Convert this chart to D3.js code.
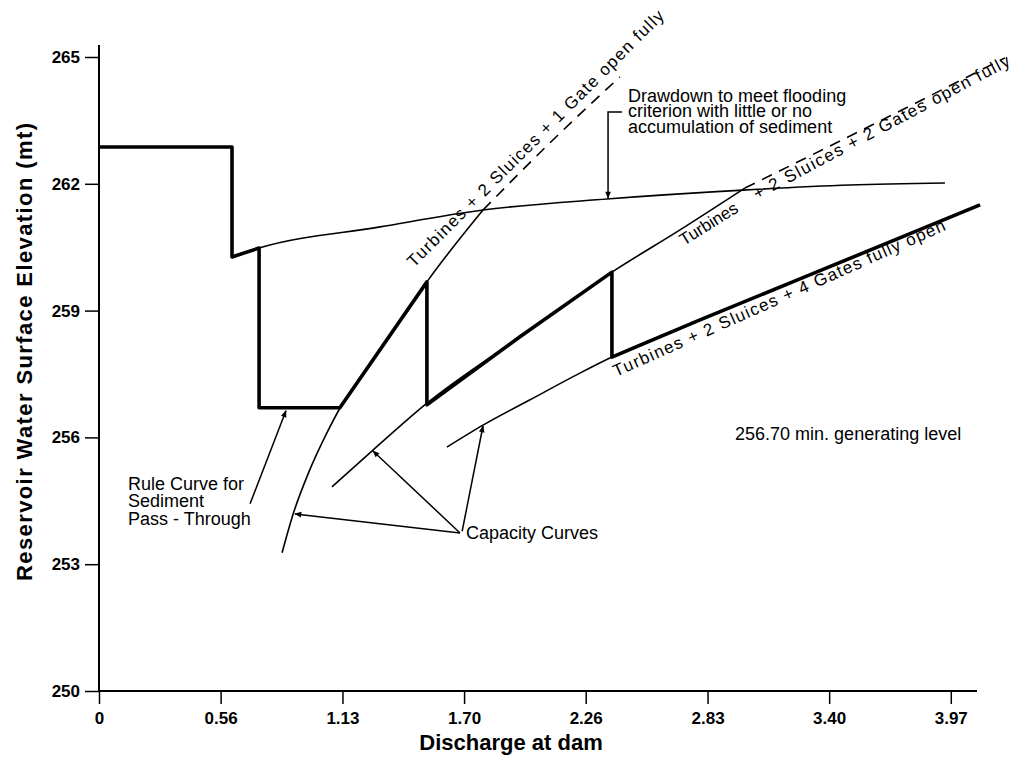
<!DOCTYPE html>
<html>
<head>
<meta charset="utf-8">
<script src="https://cdn.jsdelivr.net/npm/d3@7"></script>
<style>
  body { margin: 0; background: #fff; }
  svg { display: block; }
  text { font-family: "Liberation Sans", Arial, sans-serif; fill: #000; }
  .tick-label { font-size: 17px; font-weight: bold; }
  .axis-title { font-size: 22px; font-weight: bold; }
  .note { font-size: 18px; }
  .curve-label { font-size: 17px; }
</style>
</head>
<body>
<div id="chart"></div>
<script>
/*
 * DATA
 */

// x ticks: discharge at dam, evenly spaced, labels as printed
var xTickValues = [0, 0.566, 1.133, 1.699, 2.265, 2.832, 3.398, 3.964];
var xTickLabels = ["0", "0.56", "1.13", "1.70", "2.26", "2.83", "3.40", "3.97"];
var yTickValues = [250, 253, 256, 259, 262, 265];

// capacity curve: turbines + 2 sluices + 1 gate
var cap1Solid = [[0.852, 253.27], [0.905, 254.21], [0.975, 255.16], [1.060, 256.10],
                 [1.121, 256.69], [1.261, 257.72], [1.401, 258.75], [1.526, 259.68],
                 [1.787, 261.38]];
var cap1Dashed = [[1.787, 261.38], [2.099, 262.97], [2.424, 264.53]];

// capacity curve: turbines + 2 sluices + 2 gates
var cap2Solid = [[1.084, 254.83], [1.275, 255.70], [1.526, 256.81], [1.959, 258.38],
                 [2.387, 259.91], [2.704, 260.91], [3.006, 261.90]];
var cap2Dashed = [[3.006, 261.90], [3.495, 263.13], [4.216, 264.98]];

// capacity curve: turbines + 2 sluices + 4 gates
var cap3 = [[1.619, 255.77], [1.787, 256.29], [2.006, 256.89], [2.238, 257.52],
            [2.387, 257.90], [2.797, 258.78], [3.262, 259.75], [4.100, 261.50]];

// drawdown curve for flooding criterion
var drawdown = [[0.619, 260.27], [0.745, 260.48], [1.308, 260.98], [1.787, 261.38],
                [2.364, 261.64], [2.997, 261.85], [3.495, 261.97], [3.937, 262.02]];

// rule curve for sediment pass-through
var ruleCurve = [[0, 262.87], [0.619, 262.87], [0.619, 260.27], [0.745, 260.48],
                 [0.745, 256.70], [1.121, 256.70], [1.526, 259.68], [1.526, 256.77],
                 [1.959, 258.38], [2.387, 259.91], [2.387, 257.90], [2.797, 258.78],
                 [3.262, 259.75], [4.100, 261.50]];

// pointer lines (data units)
var pointers = [
  [[2.434, 263.70], [2.369, 263.70], [2.369, 261.66]],
  [[0.703, 254.43], [0.870, 256.63]],
  [[1.680, 253.74], [0.912, 254.19]],
  [[1.680, 253.74], [1.275, 255.68]],
  [[1.690, 253.78], [1.787, 256.27]]
];

// text notes (data units for anchor)
var notes = [
  { lines: ["Rule Curve for", "Sediment", "Pass - Through"], at: [0.135, 254.76], lh: 17.5 },
  { lines: ["Capacity Curves"], at: [1.708, 253.60] },
  { lines: ["256.70 min. generating level"], at: [2.960, 255.94] },
  { lines: ["Drawdown to meet flooding", "criterion with little or no", "accumulation of sediment"],
    at: [2.462, 263.94], lh: 15.5 }
];

var curveLabels = [
  { text: "Turbines + 2 Sluices + 1 Gate open fully", at: [1.466, 260.01], rot: -45, len: 355 },
  { text: "Turbines", at: [2.722, 260.53], rot: -32, len: 0 },
  { text: "+  2 Sluices + 2 Gates open fully", at: [3.062, 261.62], rot: -28, len: 288 },
  { text: "Turbines + 2 Sluices + 4 Gates fully open", at: [2.406, 257.43], rot: -24, len: 362 }
];

/*
 * SETUP
 */

var W = 1022, H = 757;

var x = d3.scaleLinear().domain([0, 4.086]).range([99, 977]);
var y = d3.scaleLinear().domain([250, 265]).range([691, 57]);

var svg = d3.select('#chart').append('svg')
  .attr('width', W).attr('height', H);

svg.append('defs').append('marker')
  .attr('id', 'arrow')
  .attr('viewBox', '0 0 10 10')
  .attr('refX', 9).attr('refY', 5)
  .attr('markerWidth', 9).attr('markerHeight', 7)
  .attr('markerUnits', 'userSpaceOnUse')
  .attr('orient', 'auto')
  .append('path')
  .attr('d', 'M0,1 L10,5 L0,9 Z')
  .attr('fill', '#000');

/*
 * AXES
 */

var xAxis = d3.axisBottom(x)
  .tickValues(xTickValues)
  .tickFormat(function (d, i) { return xTickLabels[i]; })
  .tickSize(13).tickSizeOuter(0);

var gx = svg.append('g')
  .attr('transform', 'translate(0,' + y(250) + ')')
  .call(xAxis);
gx.select('.domain').attr('stroke-width', 2).attr('d', 'M' + x(0) + ',0H' + x(4.086));
gx.selectAll('.tick line').attr('stroke-width', 1.5);
gx.selectAll('.tick text').attr('class', 'tick-label').attr('dy', '1.0em')
  .attr('font-size', null).attr('font-family', null);

var yAxis = d3.axisLeft(y)
  .tickValues(yTickValues)
  .tickSize(14).tickSizeOuter(0);

var gy = svg.append('g')
  .attr('transform', 'translate(' + x(0) + ',0)')
  .call(yAxis);
gy.select('.domain').attr('stroke-width', 2).attr('d', 'M0,' + (y(265) - 12) + 'V' + y(250));
gy.selectAll('.tick line').attr('stroke-width', 1.5);
gy.selectAll('.tick text').attr('class', 'tick-label').attr('x', -19)
  .attr('font-size', null).attr('font-family', null);

svg.append('text').attr('class', 'axis-title')
  .attr('x', 511).attr('y', 750)
  .attr('text-anchor', 'middle')
  .text('Discharge at dam');

svg.append('text').attr('class', 'axis-title')
  .attr('transform', 'translate(32,352) rotate(-90)')
  .attr('text-anchor', 'middle')
  .attr('textLength', 458).attr('lengthAdjust', 'spacing')
  .text('Reservoir Water Surface Elevation (mt)');

/*
 * CURVES
 */

var smooth = d3.line()
  .x(function (d) { return x(d[0]); })
  .y(function (d) { return y(d[1]); })
  .curve(d3.curveMonotoneX);

var straight = d3.line()
  .x(function (d) { return x(d[0]); })
  .y(function (d) { return y(d[1]); });

function drawCurve(data, gen, width, dash) {
  svg.append('path')
    .attr('d', gen(data))
    .attr('fill', 'none')
    .attr('stroke', '#000')
    .attr('stroke-width', width)
    .attr('stroke-linejoin', 'round')
    .attr('stroke-dasharray', dash || null);
}

drawCurve(cap1Solid, smooth, 1.6);
drawCurve(cap1Dashed, smooth, 1.6, '11,8');
drawCurve(cap2Solid, smooth, 1.6);
drawCurve(cap2Dashed, smooth, 1.6, '11,8');
drawCurve(cap3, smooth, 1.6);
drawCurve(drawdown, smooth, 1.6);
drawCurve(ruleCurve, straight, 3.6);

/*
 * POINTERS & NOTES
 */

pointers.forEach(function (p) {
  svg.append('path')
    .attr('d', straight(p))
    .attr('fill', 'none')
    .attr('stroke', '#000')
    .attr('stroke-width', 1.5)
    .attr('marker-end', 'url(#arrow)');
});

notes.forEach(function (n) {
  var t = svg.append('text')
    .attr('class', 'note')
    .attr('transform', 'translate(' + x(n.at[0]) + ',' + y(n.at[1]) + ')');
  n.lines.forEach(function (line, i) {
    t.append('tspan')
      .attr('x', 0)
      .attr('y', i * (n.lh || 16))
      .text(line);
  });
});

curveLabels.forEach(function (c) {
  var t = svg.append('text')
    .attr('class', 'curve-label')
    .attr('transform', 'translate(' + x(c.at[0]) + ',' + y(c.at[1]) + ') rotate(' + c.rot + ')')
    .text(c.text);
  if (c.len) t.attr('textLength', c.len).attr('lengthAdjust', 'spacing');
});
</script>
</body>
</html>
